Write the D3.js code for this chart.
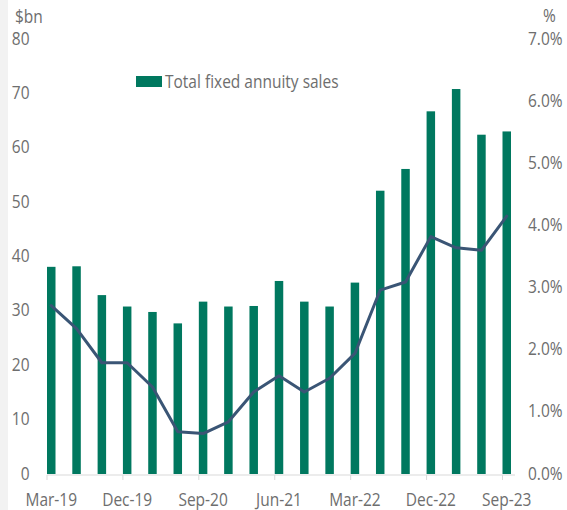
<!DOCTYPE html>
<html><head><meta charset="utf-8">
<script src="https://cdn.jsdelivr.net/npm/d3@7"></script>
<style>html,body{margin:0;padding:0;background:#fff;}svg{display:block;}</style>
</head><body>
<script>
const categories = ["Mar-19","Jun-19","Sep-19","Dec-19","Mar-20","Jun-20","Sep-20","Dec-20","Mar-21","Jun-21","Sep-21","Dec-21","Mar-22","Jun-22","Sep-22","Dec-22","Mar-23","Jun-23","Sep-23"];
const sales = [38.1,38.2,32.9,30.8,29.8,27.7,31.7,30.8,30.9,35.5,31.7,30.8,35.2,52.1,56.1,66.7,70.8,62.4,63.0];
const rate = [2.71,2.34,1.79,1.79,1.40,0.68,0.65,0.84,1.32,1.58,1.32,1.54,1.94,2.96,3.09,3.82,3.64,3.60,4.15];
const leftTicks = [0,10,20,30,40,50,60,70,80];
const rightTicks = [0,1,2,3,4,5,6,7];
const shownLabels = ["Mar-19","Dec-19","Sep-20","Jun-21","Mar-22","Dec-22","Sep-23"];
const seriesName = "Total fixed annuity sales";

const W = 567, H = 510;
const FONT = "'Open Sans', 'Noto Sans', sans-serif";
const FS = 15.5, SY = 1.18;
const textColor = "#6e6e6e";
const barColor = "#00785f";
const lineColor = "#3a5575";

const svg = d3.select("body").append("svg").attr("width", W).attr("height", H);
svg.append("rect").attr("x",0).attr("y",0).attr("width",W).attr("height",H).attr("fill","#fff");
svg.append("rect").attr("x",0).attr("y",0).attr("width",8).attr("height",H).attr("fill","#f2f2f2");

const yTop = 39, yBase = 474;
const x = d3.scalePoint().domain(categories).range([47, 502.5]);
const barW = 8.5;
const yL = d3.scaleLinear().domain([0,80]).range([yBase, yTop]);
const yR = d3.scaleLinear().domain([0,7]).range([yBase, yTop]);

function label(g, tx, ty, str, anchor) {
  const base = ty + 0.714*FS*SY/2;
  g.append("text")
    .attr("transform", `translate(${tx},${base}) scale(1,${SY})`)
    .attr("text-anchor", anchor)
    .attr("font-family", FONT).attr("font-size", FS)
    .attr("fill", textColor)
    .text(str);
}

// bars
svg.append("g").selectAll("rect").data(categories).join("rect")
  .attr("x", d => x(d)).attr("width", barW)
  .attr("y", (d,i) => yL(sales[i])).attr("height", (d,i) => yBase - yL(sales[i]))
  .attr("fill", barColor);

// x axis line & ticks
const ax = svg.append("g");
ax.append("line").attr("x1", 47).attr("x2", 515).attr("y1", yBase+1).attr("y2", yBase+1)
  .attr("stroke", "#d9d9d9").attr("stroke-width", 1);
shownLabels.forEach(c => {
  ax.append("line").attr("x1", x(c)).attr("x2", x(c)).attr("y1", yBase+1).attr("y2", yBase+6)
    .attr("stroke", "#d9d9d9").attr("stroke-width", 1);
  label(ax, x(c) + barW/2, 499, c, "middle");
});

// line
const line = d3.line().x((d,i) => x(categories[i]) + barW/2).y(d => yR(d));
svg.append("path").datum(rate).attr("d", line)
  .attr("fill","none").attr("stroke", lineColor).attr("stroke-width", 3)
  .attr("stroke-linejoin","round").attr("stroke-linecap","round");

// left axis labels
const gl = svg.append("g");
leftTicks.forEach(v => label(gl, 29.5, yL(v) - 1, String(v), "end"));
label(gl, 15, 16, "$bn", "start");

// right axis labels
const gr = svg.append("g");
rightTicks.forEach(v => label(gr, 528, yR(v) - 1, v.toFixed(1) + "%", "start"));
label(gr, 543, 15, "%", "start");

// legend
svg.append("rect").attr("x", 136).attr("y", 76).attr("width", 26).attr("height", 11).attr("fill", barColor);
label(svg, 165, 81, seriesName, "start");
</script>
</body></html>
